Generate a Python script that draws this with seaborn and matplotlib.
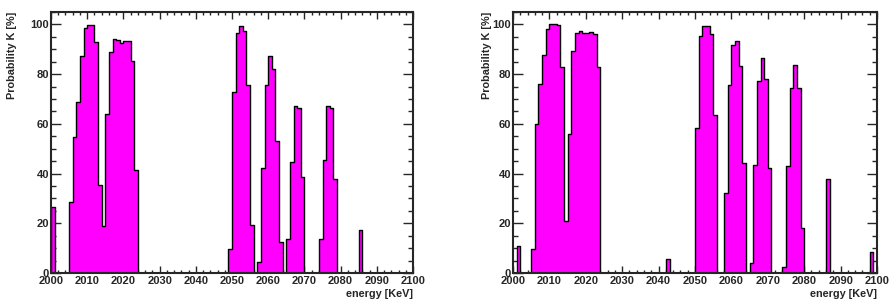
import numpy as np
import pandas as pd
import matplotlib
matplotlib.use('Agg')
import matplotlib.pyplot as plt
import seaborn as sns
from matplotlib.ticker import MultipleLocator

# bin lower edges [keV] and probability [%] for non-empty bins
left_energy = [2000] + list(range(2005, 2024)) + list(range(2049, 2056)) + \
    list(range(2057, 2064)) + list(range(2065, 2070)) + list(range(2074, 2079)) + [2085]
left_prob = [26.6,
             28.4, 54.7, 68.8, 87.1, 98.7, 99.9, 99.9, 92.9, 35.3, 19.0,
             63.9, 88.9, 94.1, 93.6, 92.7, 93.3, 93.3, 85.1, 41.4,
             9.5, 72.8, 96.7, 99.2, 97.3, 75.5, 19.3,
             4.3, 42.2, 75.5, 87.4, 82.2, 53.1, 12.6,
             13.5, 44.7, 67.2, 66.4, 38.7,
             13.5, 45.6, 67.2, 66.4, 37.9,
             17.1]

right_energy = [2001] + list(range(2005, 2024)) + [2042] + list(range(2050, 2056)) + \
    list(range(2058, 2064)) + list(range(2065, 2071)) + list(range(2074, 2080)) + [2086, 2098]
right_prob = [11.0,
              9.6, 60.0, 76.1, 87.8, 98.1, 100.0, 100.0, 99.6, 83.0, 21.0,
              56.0, 89.5, 96.7, 97.3, 96.7, 96.6, 97.1, 96.0, 82.8,
              5.5,
              58.5, 95.2, 99.5, 99.5, 96.0, 63.5,
              32.3, 75.6, 91.6, 93.3, 83.1, 44.3,
              3.9, 43.6, 77.1, 86.3, 78.2, 42.4,
              2.5, 43.1, 74.6, 83.5, 74.6, 18.3,
              38.0, 8.6]

sns.set_style("ticks")
plt.rcParams['font.family'] = ['Liberation Sans', 'DejaVu Sans']
plt.rcParams['font.weight'] = 'bold'

fig = plt.figure(figsize=(8.9, 3), dpi=100)
ax1 = fig.add_axes([51/890, 27/300, 362/890, 261/300])
ax2 = fig.add_axes([513/890, 27/300, 364/890, 261/300])

for ax, en, pr, ylx in [(ax1, left_energy, left_prob, -0.094), (ax2, right_energy, right_prob, -0.058)]:
    df = pd.DataFrame({'energy': np.array(en) + 0.5, 'prob': pr})
    sns.histplot(data=df, x='energy', weights='prob', bins=100, binrange=(2000, 2100),
                 element='step', fill=True, color='#ff00ff', edgecolor='black',
                 linewidth=1.0, alpha=1, ax=ax)
    ax.set_xlim(2000, 2100)
    ax.set_ylim(0, 105)
    ax.xaxis.set_major_locator(MultipleLocator(10))
    ax.xaxis.set_minor_locator(MultipleLocator(2))
    ax.yaxis.set_major_locator(MultipleLocator(20))
    ax.yaxis.set_minor_locator(MultipleLocator(5))
    ax.tick_params(which='both', direction='in', top=True, right=True,
                   labelsize=8, width=1)
    ax.tick_params(axis='y', which='major', length=7, pad=1.5)
    ax.tick_params(axis='y', which='minor', length=3.5)
    ax.tick_params(axis='x', which='major', length=5, pad=2.5)
    ax.tick_params(axis='x', which='minor', length=2.5)
    for lab in ax.get_xticklabels() + ax.get_yticklabels():
        lab.set_fontweight('bold')
    for s in ax.spines.values():
        s.set_linewidth(1.5)
    ax.set_xlabel('energy [KeV]', fontsize=7.8, fontweight='bold', ha='right', labelpad=0)
    ax.xaxis.set_label_coords(1.0, -0.06)
    ax.set_ylabel('Probability K [%]', fontsize=7.8, fontweight='bold', ha='right', labelpad=0)
    ax.yaxis.set_label_coords(ylx, 1.0)

plt.savefig('out.png', dpi=100)
